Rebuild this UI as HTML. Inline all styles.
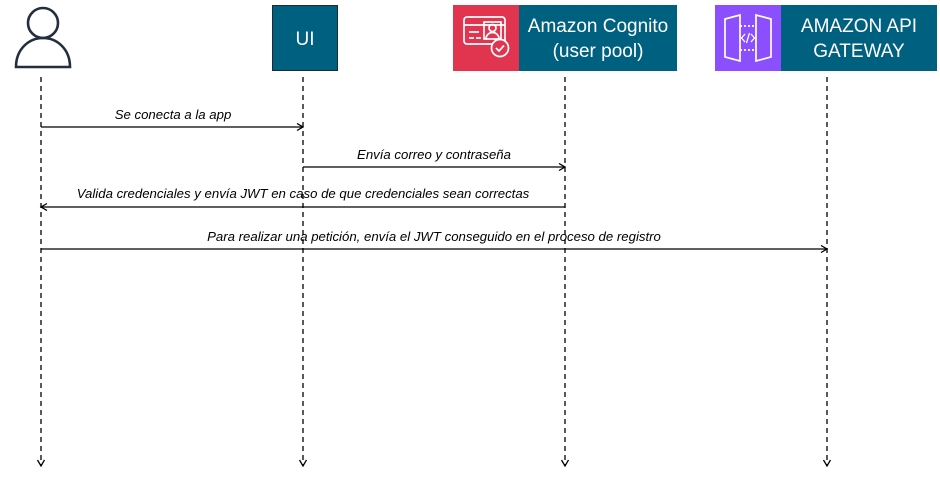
<!DOCTYPE html>
<html><head><meta charset="utf-8"><style>
html,body{margin:0;padding:0;background:#fff;}
svg{display:block;font-family:"Liberation Sans",Arial,sans-serif;}
</style></head><body>
<svg width="940" height="477" viewBox="0 0 940 477" xmlns="http://www.w3.org/2000/svg">
<defs>
<marker id="ah" markerWidth="10" markerHeight="10" refX="7" refY="4" orient="auto" markerUnits="userSpaceOnUse">
<path d="M1,0.5 L7,4 L1,7.5" fill="none" stroke="#000" stroke-width="1.3"/>
</marker>
</defs>
<!-- person -->
<g fill="none" stroke="#232f3e" stroke-width="2.6">
<circle cx="43" cy="23" r="15"/>
<path d="M16,67 C16,49 29,38 43,38 C57,38 70,49 70,67 Z"/>
</g>
<!-- UI -->
<rect x="272.5" y="5.5" width="65" height="65" fill="#006080" stroke="#1b2a33" stroke-width="1"/>
<text x="305" y="45" fill="#fff" font-size="19" text-anchor="middle">UI</text>
<!-- Cognito -->
<rect x="453" y="5" width="67" height="66" fill="#e1344e"/>
<rect x="519" y="5" width="158" height="66" fill="#006080"/>
<g fill="none" stroke="#fff" stroke-width="1.7">
<rect x="464" y="17" width="41" height="27" rx="3"/>
<line x1="464" y1="25" x2="505" y2="25"/>
<line x1="469" y1="32" x2="479" y2="32"/>
<line x1="469" y1="38" x2="474" y2="38"/>
<line x1="476" y1="38" x2="481" y2="38"/>
<rect x="484" y="22" width="17" height="17"/>
<circle cx="492.5" cy="28" r="3.5"/>
<path d="M486,39 a6.5,6.5 0 0 1 13,0"/>
<circle cx="500" cy="48" r="8.5" fill="#e1344e"/>
<path d="M496,48 l3,3 l5,-5.5"/>
</g>
<text x="598" y="32" fill="#fff" font-size="19" text-anchor="middle">Amazon Cognito</text>
<text x="598" y="57" fill="#fff" font-size="19" text-anchor="middle">(user pool)</text>
<!-- API Gateway -->
<rect x="715" y="5" width="67" height="66" fill="#8c4fff"/>
<rect x="781" y="5" width="156" height="66" fill="#006080"/>
<g fill="none" stroke="#fff" stroke-width="1.7">
<path d="M725,19 L740,15 L740,61 L725,57 Z"/>
<path d="M771,19 L756,15 L756,61 L771,57 Z"/>
<line x1="740" y1="26" x2="756" y2="26" stroke-dasharray="2,2"/>
<line x1="740" y1="50" x2="756" y2="50" stroke-dasharray="2,2"/>
<path d="M745,34 l-3.5,4 l3.5,4 M751,34 l3.5,4 l-3.5,4 M749.5,33 l-3,10" stroke-width="1.3"/>
</g>
<text x="859" y="32" fill="#fff" font-size="19" text-anchor="middle">AMAZON API</text>
<text x="859" y="57" fill="#fff" font-size="19" text-anchor="middle">GATEWAY</text>
<!-- lifelines -->
<g stroke="#000" stroke-width="1.3" stroke-dasharray="5,4" marker-end="url(#ah)">
<line x1="41" y1="77" x2="41" y2="466"/>
<line x1="303" y1="77" x2="303" y2="466"/>
<line x1="565" y1="77" x2="565" y2="466"/>
<line x1="827" y1="77" x2="827" y2="466"/>
</g>
<!-- messages -->
<g stroke="#000" stroke-width="1.3" marker-end="url(#ah)">
<line x1="41" y1="127" x2="303" y2="127"/>
<line x1="303" y1="167" x2="565" y2="167"/>
<line x1="565" y1="207" x2="41" y2="207"/>
<line x1="41" y1="249" x2="827" y2="249"/>
</g>
<g font-size="13.2" font-style="italic" fill="#000" text-anchor="middle">
<text x="173" y="119">Se conecta a la app</text>
<text x="434" y="159">Envía correo y contraseña</text>
<text x="303" y="198">Valida credenciales y envía JWT en caso de que credenciales sean correctas</text>
<text x="434" y="241">Para realizar una petición, envía el JWT conseguido en el proceso de registro</text>
</g>
</svg>
</body></html>
